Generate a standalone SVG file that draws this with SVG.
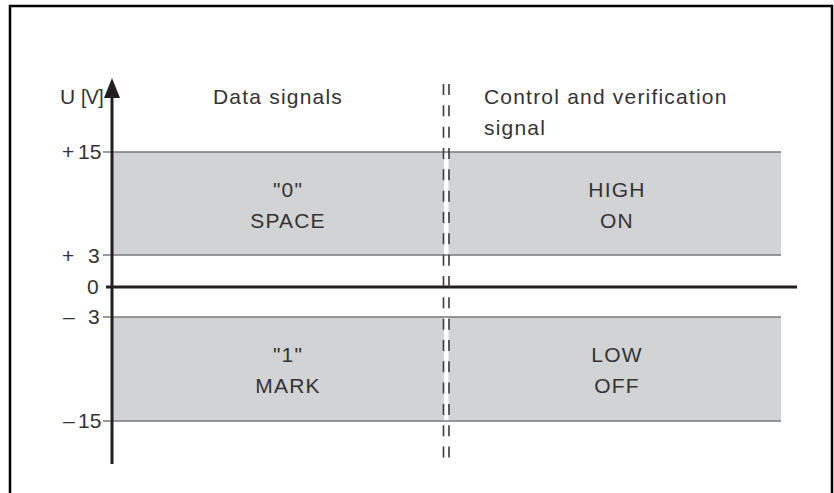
<svg xmlns="http://www.w3.org/2000/svg" width="834" height="493" viewBox="0 0 834 493">
<style>
.t{font-family:"Liberation Sans",Arial,sans-serif;font-size:21px;letter-spacing:1.2px;fill:#333;}
.n{letter-spacing:0px;}
.c{text-anchor:middle;}
.band{fill:#d1d3d4;}
.gl{stroke:#7a7a7a;stroke-width:1.5;fill:none;}
.dash{stroke:#3a3a3a;stroke-width:1.6;stroke-dasharray:11 10.33;fill:none;}
</style>
<rect width="834" height="493" fill="#fff"/>
<path d="M10,493 V6 H832 V493" fill="none" stroke="#000" stroke-width="2.5"/>
<g id="bands">
<rect class="band" x="112" y="152" width="332" height="103"/>
<rect class="band" x="448.5" y="152" width="332.5" height="103"/>
<rect class="band" x="112" y="317" width="332" height="104"/>
<rect class="band" x="448.5" y="317" width="332.5" height="104"/>
</g>
<g id="connectors">
<path class="gl" d="M103,152 H781 M103,255 H781 M103,317 H781 M103,421 H781"/>
<line x1="106" y1="287" x2="797" y2="287" stroke="#231f20" stroke-width="3"/>
<line x1="112" y1="464" x2="112" y2="98" stroke="#231f20" stroke-width="3"/>
<path d="M104,98 L112,78 L120,98 Z" fill="#231f20"/>
<line class="dash" x1="443.5" y1="84" x2="443.5" y2="460"/>
<line class="dash" x1="449" y1="84" x2="449" y2="460"/>
</g>
<g id="axis-labels">
<text class="t n" x="60" y="104">U</text>
<text class="t n" x="81" y="104" style="font-size:19.5px;letter-spacing:-0.6px">[V]</text>
<text class="t n" x="62" y="159">+</text>
<text class="t n" x="78" y="159">15</text>
<text class="t n" x="62" y="263">+</text>
<text class="t n" x="88" y="263">3</text>
<text class="t n" x="87" y="294">0</text>
<text class="t n" x="63" y="324">–</text>
<text class="t n" x="88" y="324">3</text>
<text class="t n" x="63" y="428">–</text>
<text class="t n" x="78" y="428">15</text>
</g>
<g id="headers">
<text class="t" x="213" y="104">Data signals</text>
<text class="t" x="484" y="104">Control and verification</text>
<text class="t" x="484" y="135">signal</text>
</g>
<g id="node-space">
<text class="t c" x="288" y="197">"0"</text>
<text class="t c" x="288" y="228">SPACE</text>
</g>
<g id="node-high">
<text class="t c" x="617" y="197">HIGH</text>
<text class="t c" x="617" y="228">ON</text>
</g>
<g id="node-mark">
<text class="t c" x="288" y="362">"1"</text>
<text class="t c" x="288" y="393">MARK</text>
</g>
<g id="node-low">
<text class="t c" x="617" y="362">LOW</text>
<text class="t c" x="617" y="393">OFF</text>
</g>
</svg>
